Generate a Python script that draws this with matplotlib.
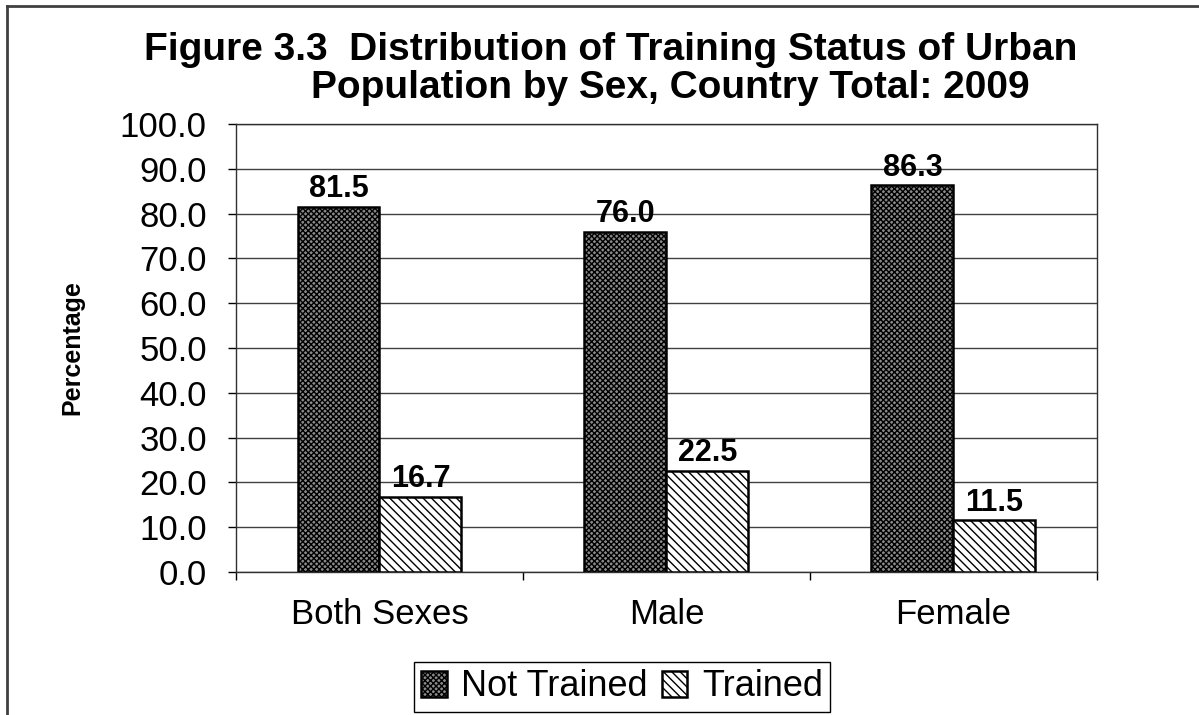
import numpy as np
import matplotlib
matplotlib.use('Agg')
import matplotlib.pyplot as plt
from matplotlib.lines import Line2D

plt.rcParams['font.family'] = ['Liberation Sans', 'DejaVu Sans']
plt.rcParams['hatch.linewidth'] = 1.0

categories = ['Both Sexes', 'Male', 'Female']
not_trained = [81.5, 76.0, 86.3]
trained = [16.7, 22.5, 11.5]
series_names = ['Not Trained', 'Trained']
title_lines = ['Figure 3.3  Distribution of Training Status of Urban',
               'Population by Sex, Country Total: 2009']

W, H = 1199, 715
fig = plt.figure(figsize=(W / 100, H / 100), dpi=100)
ax = fig.add_axes([236 / W, 1 - 572 / H, (1097 - 236) / W, (572 - 124) / H])

x = np.arange(len(categories))
bw = 1 / 3.5
b1 = ax.bar(x - bw / 2, not_trained, bw, facecolor='#8a8a8a', edgecolor='black',
            hatch='xxxxxx', linewidth=1.8, label=series_names[0], zorder=3)
b2 = ax.bar(x + bw / 2, trained, bw, facecolor='white', edgecolor='black',
            hatch='\\\\\\\\', linewidth=1.8, label=series_names[1], zorder=3)

for bars, vals in ((b1, not_trained), (b2, trained)):
    for r, v in zip(bars, vals):
        ax.annotate(f'{v:.1f}', (r.get_x() + r.get_width() / 2, v),
                    xytext=(0, 2), textcoords='offset points',
                    ha='center', va='bottom', fontsize=22, fontweight='bold')

ax.set_xlim(-0.5, len(categories) - 0.5)
ax.set_ylim(0, 100)
ax.set_yticks(np.arange(0, 101, 10))
ax.set_yticklabels([f'{t:.1f}' for t in np.arange(0, 101, 10)], fontsize=25)
ax.tick_params(axis='y', length=6, width=1, pad=15)
ax.set_xticks(x)
ax.set_xticklabels(categories, fontsize=25)
ax.set_xticks(np.arange(-0.5, len(categories)), minor=True)
ax.tick_params(axis='x', which='major', length=0, pad=19)
ax.tick_params(axis='x', which='minor', length=6, width=1, direction='out')

ax.yaxis.grid(True, color='#404040', linewidth=1)
ax.set_axisbelow(True)
for s in ax.spines.values():
    s.set_color('#303030')
    s.set_linewidth(1)

fig.text(72 / W, 1 - 348 / H, 'Percentage', rotation=90, ha='center', va='center',
         fontsize=18, fontweight='bold')
# the two title lines are not centred on the same point in the original
fig.text(611 / W, 1 - 50 / H, title_lines[0], ha='center', va='center',
         fontsize=28, fontweight='bold')
fig.text(670 / W, 1 - 88 / H, title_lines[1], ha='center', va='center',
         fontsize=28, fontweight='bold')

fig.legend(handles=[b1, b2], labels=series_names, loc='center',
           bbox_to_anchor=(622 / W, 1 - 687 / H), ncol=2, fontsize=26,
           frameon=True, fancybox=False, edgecolor='black', framealpha=1,
           handlelength=0.7, handleheight=0.7, handletextpad=0.4,
           columnspacing=0.4, borderpad=0.2)

fig.add_artist(Line2D([7 / W, 7 / W], [0, 1 - 6 / H], color='#404040', linewidth=2))
fig.add_artist(Line2D([7 / W, 1], [1 - 6 / H, 1 - 6 / H], color='#404040', linewidth=2))

fig.savefig('out.png', dpi=100)
